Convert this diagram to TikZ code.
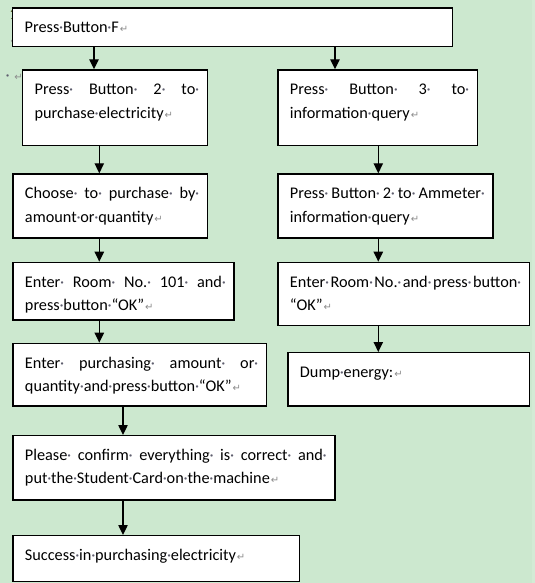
\documentclass[tikz,border=0pt]{standalone}
\usepackage{fontspec}
\setmainfont{Carlito}
\newfontfamily\markfont{DejaVu Sans}
\usetikzlibrary{arrows.meta}

\definecolor{pagegreen}{HTML}{CCE8CF}
\definecolor{edgegreen}{HTML}{D3EBD5}
\definecolor{markgray}{HTML}{5E5E6E}
\definecolor{retgray}{HTML}{8C8C8C}
\definecolor{numolive}{HTML}{4A4A10}

% Word-style formatting marks
\newcommand{\sd}{\makebox[0.226em]{\textcolor{markgray}{·}}}
\newcommand{\js}{\sd\hfill}
\newcommand{\jend}{\rlap{\sd}}
\newcommand{\rt}{\kern0.06em{\markfont\fontsize{7.5}{7.5}\selectfont\textcolor{retgray}{↵}}}
\newcommand{\jline}[1]{\leavevmode\hbox to \hsize{#1}}

\tikzset{
  stepbox/.style={draw=black, line width=1pt, fill=white, anchor=north west,
    inner xsep=9pt, inner ysep=0pt, align=left, text height=18.6pt,
    font=\fontsize{12.2pt}{17.5pt}\selectfont},
  flow/.style={line width=1pt, -{Triangle[length=7.5pt,width=7pt]}},
  marktext/.style={inner sep=0pt, anchor=base west, font=\fontsize{12.2pt}{14pt}\selectfont}
}

\begin{document}
\begin{tikzpicture}[x=0.75pt,y=-0.75pt]
\useasboundingbox (0,0) rectangle (535,583);
\fill[pagegreen] (0,0) rectangle (535,583);
\fill[edgegreen] (531.7,0) rectangle (535,583);

% stray marks behind the first boxes
\node[marktext, text=numolive] (n1) at (9,19) {1};
\node[marktext] (r1) at (9.5,44) {\rt};
\node[marktext] (r2) at (5.5,80) {\sd\kern3pt\rt};

% left column
\node[stepbox, text width=311.8pt, text depth=10.4pt] (b1) at (12,7.3) {Press\sd Button\sd F\rt};
\node[stepbox, text width=120.5pt, text depth=38.2pt] (b2) at (22,69.3)
  {\jline{Press\js Button\js 2\js to\jend}\\purchase\sd electricity\rt};
\node[stepbox, text width=127.8pt, text depth=29.4pt] (b4) at (12.3,173.3)
  {\jline{Choose\js to\js purchase\js by\jend}\\amount\sd or\sd quantity\rt};
\node[stepbox, text width=147.8pt, text depth=24.6pt] (b6) at (12.3,261.7)
  {\jline{Enter\js Room\js No.\js 101\js and\jend}\\press\sd button\sd “OK”\rt};
\node[stepbox, text width=172.1pt, text depth=28.4pt] (b7) at (12.3,342.7)
  {\jline{Enter\js purchasing\js amount\js or\jend}\\quantity\sd and\sd press\sd button\sd “OK”\rt};
\node[stepbox, text width=223.5pt, text depth=29.6pt] (b10) at (12.3,435)
  {\jline{Please\js confirm\js everything\js is\js correct\js and\jend}\\put\sd the\sd Student\sd Card\sd on\sd the\sd machine\rt};
\node[stepbox, text width=196.8pt, text depth=15.9pt] (b11) at (12.3,535)
  {Success\sd in\sd purchasing\sd electricity\rt};

% right column
\node[stepbox, text width=131.6pt, text depth=38.2pt] (b3) at (277.3,69.3)
  {\jline{Press\js Button\js 3\js to\jend}\\information\sd query\rt};
\node[stepbox, text width=143.3pt, text depth=29.4pt] (b5) at (277.3,173.3)
  {\jline{Press\js Button\js 2\js to\js Ammeter\jend}\\information\sd query\rt};
\node[stepbox, text width=170.6pt, text depth=28.9pt] (b8) at (277.3,261.7)
  {\jline{Enter\js Room\js No.\js and\js press\js button\jend}\\“OK”\rt};
\node[stepbox, text width=163.1pt, text depth=21.4pt] (b9) at (287.3,352)
  {Dump\sd energy:\rt};

% arrow columns
\coordinate (c1) at (94,0);
\coordinate (c2) at (335,0);
\coordinate (c3) at (99.3,0);
\coordinate (c4) at (378.3,0);
\coordinate (c5) at (123,0);

\draw[flow] (b1.south -| c1) -- (b2.north -| c1);
\draw[flow] (b1.south -| c2) -- (b3.north -| c2);
\draw[flow] (b2.south -| c3) -- (b4.north -| c3);
\draw[flow] (b4.south -| c3) -- (b6.north -| c3);
\draw[flow] (b6.south -| c3) -- (b7.north -| c3);
\draw[flow] (b7.south -| c5) -- (b10.north -| c5);
\draw[flow] (b10.south -| c5) -- (b11.north -| c5);
\draw[flow] (b3.south -| c4) -- (b5.north -| c4);
\draw[flow] (b5.south -| c4) -- (b8.north -| c4);
\draw[flow] (b8.south -| c4) -- (b9.north -| c4);
\end{tikzpicture}
\end{document}
